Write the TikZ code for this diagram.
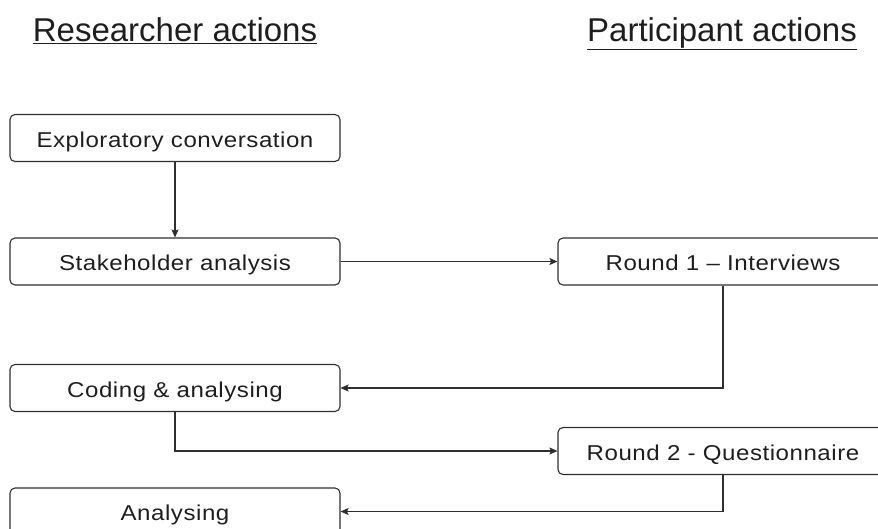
\documentclass[tikz,border=0pt]{standalone}
\usepackage{fontspec}
\setmainfont{Liberation Sans}
\newfontfamily\boxfont[FakeStretch=1.12, LetterSpace=2.5]{Liberation Sans}
\usetikzlibrary{arrows.meta}

\definecolor{ink}{HTML}{1E1E1E}
\definecolor{edge}{HTML}{2E2E2E}

\tikzset{
  stepbox/.style={draw=edge, line width=1.1pt, rounded corners=5pt,
    minimum width=330pt, minimum height=47pt, inner sep=0pt,
    text height=20pt, text depth=1.4pt,
    text=ink, font=\boxfont\fontsize{21.5}{24}\selectfont},
  heading/.style={text=ink, font=\fontsize{33}{38}\selectfont, inner sep=0pt, anchor=base},
  flow/.style={draw=edge, line width=1.1pt, -{Stealth[length=8pt,width=7pt,inset=1.5pt]}},
}

\begin{document}
\begin{tikzpicture}[x=1pt, y=-1pt]
  \useasboundingbox (0,0) rectangle (878,528);
  \clip (0,0) rectangle (878,528);

  % column headings
  \node[heading] (hres) at (175,41) {\underline{Researcher actions}};
  \node[heading] (hpar) at (722,41) {\underline{Participant actions}};

  % researcher column
  \node[stepbox] (explore) at (175,138) {Exploratory conversation};
  \node[stepbox] (stake)   at (175,261.5) {Stakeholder analysis};
  \node[stepbox] (coding)  at (175,388) {Coding \& analysing};
  \node[stepbox] (anal)    at (175,511.5) {Analysing};

  % participant column
  \node[stepbox] (round1) at (723,261.5) {Round 1 – Interviews};
  \node[stepbox] (round2) at (723,451) {Round 2 - Questionnaire};

  % connectors
  \draw[flow] (explore) -- (stake);
  \draw[flow] (stake) -- (round1);
  \draw[flow] (round1.south) |- (coding.east);
  \draw[flow] (coding.south) |- (round2.west);
  \draw[flow] (round2.south) |- (anal.east);
\end{tikzpicture}
\end{document}
